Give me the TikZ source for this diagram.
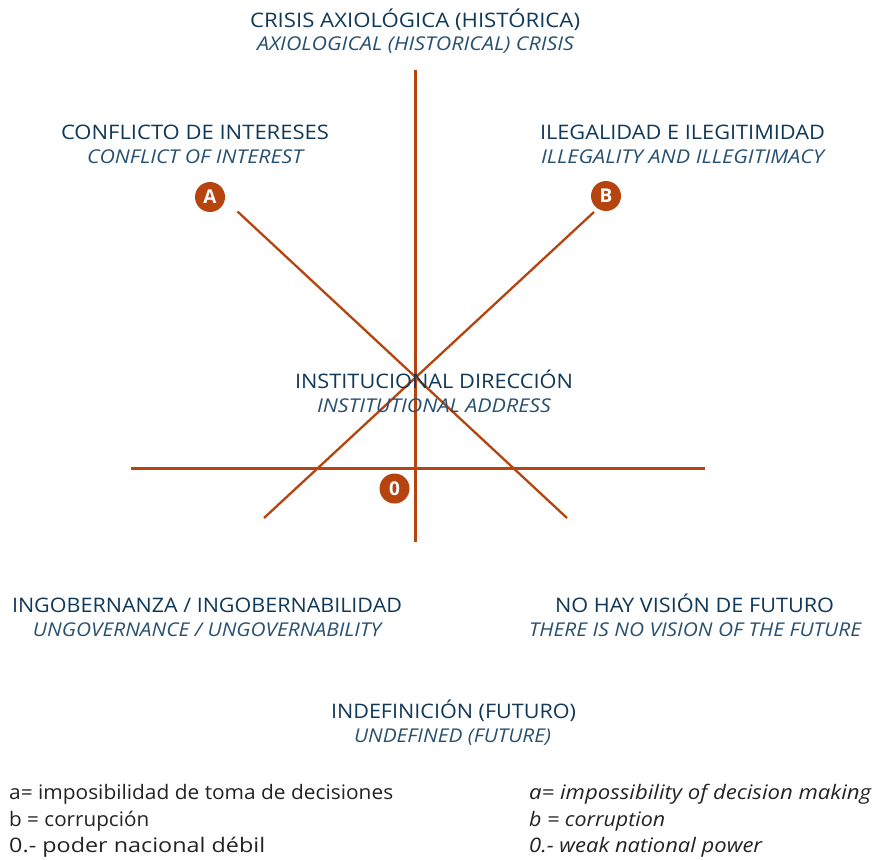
\documentclass[tikz,border=0pt]{standalone}
\usepackage{fontspec}
\setmainfont{Open Sans}
\usepackage{graphicx}
\definecolor{rust}{RGB}{182,68,14}
\definecolor{navy}{RGB}{16,56,88}
\definecolor{subnavy}{RGB}{40,80,112}
\definecolor{foot}{RGB}{35,35,35}
\newlength\natw
\newcommand\fitw[2]{\settowidth\natw{#2}\pgfmathsetmacro\sxf{#1/\natw}\scalebox{\sxf}[1]{#2}}
\tikzset{
  axisline/.style={draw=rust, line width=2.3pt},
  badge/.style={circle, fill=rust, text=white, minimum size=30pt, inner sep=0pt, font=\fontsize{19}{19}\selectfont\bfseries},
  ttl/.style={anchor=base, inner sep=0pt, text=navy, font=\fontsize{20}{20}\selectfont},
  sub/.style={anchor=base, inner sep=0pt, text=subnavy, font=\fontsize{19}{19}\selectfont\itshape},
  footl/.style={anchor=base west, inner sep=0pt, text=foot, font=\fontsize{20}{20}\selectfont},
  footr/.style={anchor=base west, inner sep=0pt, text=foot, font=\fontsize{20}{20}\selectfont\itshape},
}
\begin{document}
\begin{tikzpicture}[x=1pt,y=-1pt]
\useasboundingbox (0,0) rectangle (872,859);
% axes
\coordinate (vt) at (415.5,70);
\coordinate (vb) at (415.5,541.5);
\coordinate (hl) at (131,468.5);
\coordinate (hr) at (705,468.5);
\coordinate (ae) at (567,518);
\coordinate (be) at (264,518);
\coordinate (as) at (237.5,211.5);
\coordinate (bs) at (594,212);
\draw[axisline] (vt) -- (vb);
\draw[axisline] (hl) -- (hr);
\draw[axisline] (as) -- (ae);
\draw[axisline] (bs) -- (be);
% badges
\node[badge] (A) at (210,197) {A};
\node[badge] (B) at (606,196) {B};
\node[badge] (O) at (394.5,488.5) {0};
% labels
\node[ttl] (t1) at (415,27.5) {\fitw{330}{CRISIS AXIOLÓGICA (HISTÓRICA)}};
\node[sub] (s1) at (415.5,51) {\fitw{317}{AXIOLOGICAL (HISTORICAL) CRISIS}};
\node[ttl] (t2) at (195,139.5) {\fitw{268}{CONFLICTO DE INTERESES}};
\node[sub] (s2) at (195,163.5) {\fitw{216}{CONFLICT OF INTEREST}};
\node[ttl] (t3) at (682.5,139.5) {\fitw{285}{ILEGALIDAD E ILEGITIMIDAD}};
\node[sub] (s3) at (682.5,163.5) {\fitw{283}{ILLEGALITY AND ILLEGITIMACY}};
\node[ttl] (t4) at (434,388.5) {\fitw{278}{INSTITUCIONAL DIRECCIÓN}};
\node[sub] (s4) at (434,412.5) {\fitw{234}{INSTITUTIONAL ADDRESS}};
\node[ttl] (t5) at (207,612.5) {\fitw{390}{INGOBERNANZA / INGOBERNABILIDAD}};
\node[sub] (s5) at (207,636.5) {\fitw{348}{UNGOVERNANCE / UNGOVERNABILITY}};
\node[ttl] (t6) at (694.5,612.5) {\fitw{279}{NO HAY VISIÓN DE FUTURO}};
\node[sub] (s6) at (695,636.5) {\fitw{332}{THERE IS NO VISION OF THE FUTURE}};
\node[ttl] (t7) at (453.5,718.5) {\fitw{245}{INDEFINICIÓN (FUTURO)}};
\node[sub] (s7) at (452.5,742.5) {\fitw{197}{UNDEFINED (FUTURE)}};
% footer
\node[footl] (f1) at (9,799.5) {\fitw{384}{a= imposibilidad de toma de decisiones}};
\node[footl] (f2) at (9,826) {\fitw{140}{b = corrupción}};
\node[footl] (f3) at (9,852.5) {\fitw{256}{0.- poder nacional débil}};
\node[footr] (g1) at (529,799.5) {\fitw{342}{a= impossibility of decision making}};
\node[footr] (g2) at (529,826) {\fitw{136}{b = corruption}};
\node[footr] (g3) at (529,852.5) {\fitw{233}{0.- weak national power}};
\end{tikzpicture}
\end{document}
